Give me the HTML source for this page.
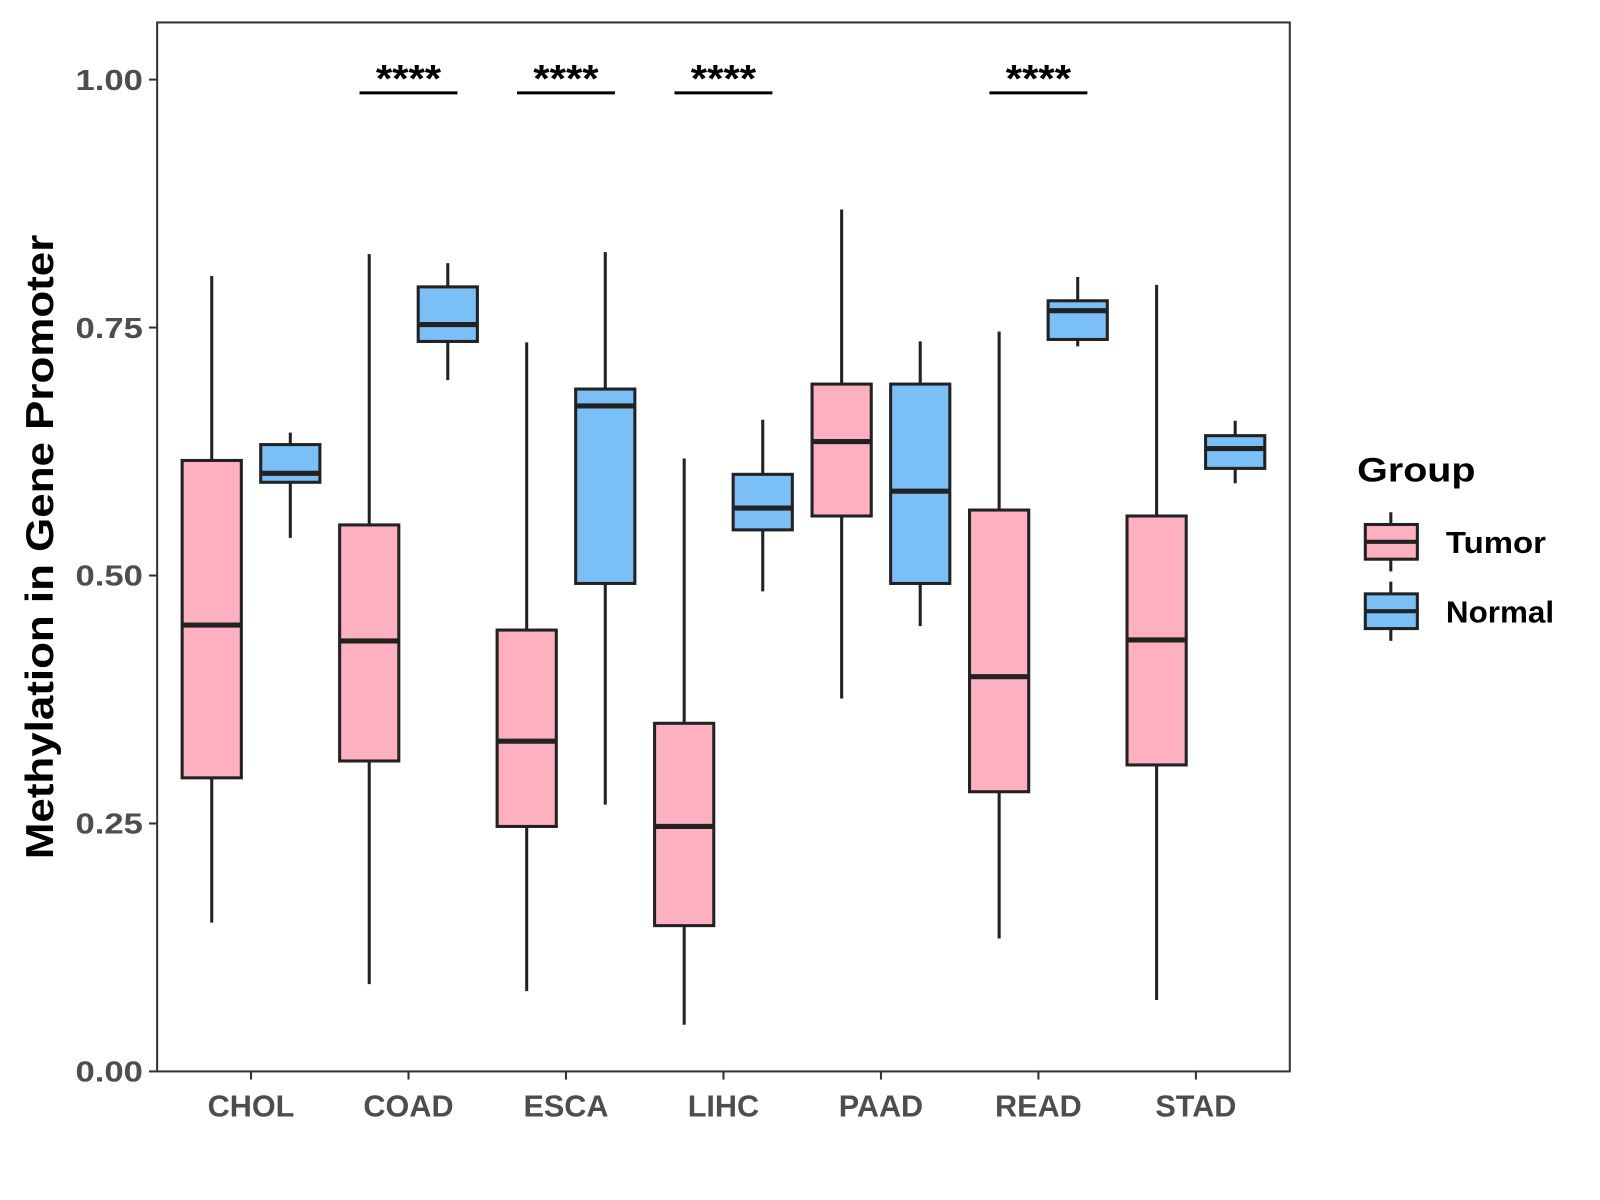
<!DOCTYPE html>
<html><head><meta charset="utf-8"><style>
html,body{margin:0;padding:0;background:#fff;}
svg{display:block;font-family:"Liberation Sans",Arial,sans-serif;font-weight:bold;}
</style></head><body>
<svg id="chart" width="1600" height="1200" viewBox="0 0 1568 1176" xmlns="http://www.w3.org/2000/svg">
<rect x="0" y="0" width="1568" height="1176" fill="#fff"/>
<rect x="154" y="22" width="1110" height="1028" fill="#fff" stroke="#333" stroke-width="2"/>
<g id="marks"></g>
<text transform="translate(52,536) rotate(-90)" text-anchor="middle" font-size="38" fill="#000" textLength="612" lengthAdjust="spacingAndGlyphs">Methylation in Gene Promoter</text>
<text x="1330" y="472" font-size="34" fill="#000" textLength="116" lengthAdjust="spacingAndGlyphs">Group</text>
<g>
<line x1="1363" y1="502" x2="1363" y2="560" stroke="#222" stroke-width="3"/>
<rect x="1338" y="514" width="51" height="34" fill="#FDB0C0" stroke="#222" stroke-width="3"/>
<line x1="1338" y1="531" x2="1389" y2="531" stroke="#222" stroke-width="4"/>
<text x="1417" y="542" font-size="30" fill="#000" textLength="98" lengthAdjust="spacingAndGlyphs">Tumor</text>
</g>
<g>
<line x1="1363" y1="570" x2="1363" y2="628" stroke="#222" stroke-width="3"/>
<rect x="1338" y="582" width="51" height="34" fill="#7AC0F7" stroke="#222" stroke-width="3"/>
<line x1="1338" y1="599" x2="1389" y2="599" stroke="#222" stroke-width="4"/>
<text x="1417" y="610" font-size="30" fill="#000" textLength="106" lengthAdjust="spacingAndGlyphs">Normal</text>
</g>
</svg>
<script>
const categories = ["CHOL","COAD","ESCA","LIHC","PAAD","READ","STAD"];
// [min, q1, median, q3, max]
const tumorStats = [
 [0.150,0.296,0.450,0.616,0.802],
 [0.088,0.313,0.434,0.551,0.824],
 [0.081,0.247,0.333,0.445,0.735],
 [0.047,0.147,0.247,0.351,0.618],
 [0.376,0.560,0.635,0.693,0.869],
 [0.134,0.282,0.398,0.566,0.746],
 [0.072,0.309,0.435,0.560,0.793]
];
const normalStats = [
 [0.538,0.594,0.603,0.632,0.644],
 [0.697,0.736,0.753,0.791,0.815],
 [0.269,0.492,0.671,0.688,0.826],
 [0.484,0.546,0.568,0.602,0.657],
 [0.449,0.492,0.585,0.693,0.736],
 [0.731,0.738,0.767,0.777,0.801],
 [0.593,0.608,0.628,0.641,0.656]
];
const yTicks = [0, 0.25, 0.5, 0.75, 1.0];
const yTickLabels = ["0.00","0.25","0.50","0.75","1.00"];
const sigLabels = ["","****","****","****","","****",""];

const NS="http://www.w3.org/2000/svg";
const g=document.getElementById('marks');
const x0=246, step=154.33;
function xScale(i){return x0+i*step;}
function yScale(v){return 1050-v*972;}
function el(tag,attrs,parent){const e=document.createElementNS(NS,tag);for(const k in attrs)e.setAttribute(k,attrs[k]);(parent||g).appendChild(e);return e;}

yTicks.forEach((t,i)=>{
 const y=yScale(t);
 const tk=el('line',{x1:146,x2:154,y1:y,y2:y,stroke:'#333','stroke-width':2});
 
 
 const tx=el('text',{x:140,y:y+10,'text-anchor':'end','font-size':28,fill:'#4d4d4d',textLength:66,lengthAdjust:'spacingAndGlyphs'});
 tx.textContent=yTickLabels[i];
 
 
});
categories.forEach((c,i)=>{
 const x=xScale(i);
 const tk=el('line',{x1:x,x2:x,y1:1050,y2:1058,stroke:'#333','stroke-width':2});
 
 
 const tx=el('text',{x:x,y:1094,'text-anchor':'middle','font-size':30,fill:'#4d4d4d'});
 tx.textContent=c;
 
 
});
function drawBox(s,cx,fill,name){
 const grp=el('g',{});
 
 
 const w=58;
 el('line',{x1:cx,x2:cx,y1:yScale(s[0]),y2:yScale(s[4]),stroke:'#222','stroke-width':3},grp);
 el('rect',{x:cx-w/2,y:yScale(s[3]),width:w,height:yScale(s[1])-yScale(s[3]),fill:fill,stroke:'#222','stroke-width':3},grp);
 el('line',{x1:cx-w/2,x2:cx+w/2,y1:yScale(s[2]),y2:yScale(s[2]),stroke:'#222','stroke-width':5},grp);
}
categories.forEach((c,i)=>{
 const x=xScale(i);
 drawBox(tumorStats[i],x-38.5,'#FDB0C0','box-tumor-'+c.toLowerCase());
 drawBox(normalStats[i],x+38.5,'#7AC0F7','box-normal-'+c.toLowerCase());
 if(sigLabels[i]){
  const ln=el('line',{x1:x-48,x2:x+48,y1:91,y2:91,stroke:'#000','stroke-width':3});
  
  
  const t=el('text',{x:x,y:90,'text-anchor':'middle','font-size':38,fill:'#000',textLength:64,lengthAdjust:'spacingAndGlyphs'});
  t.textContent=sigLabels[i];
  
  
 }
});
</script>
</body></html>
